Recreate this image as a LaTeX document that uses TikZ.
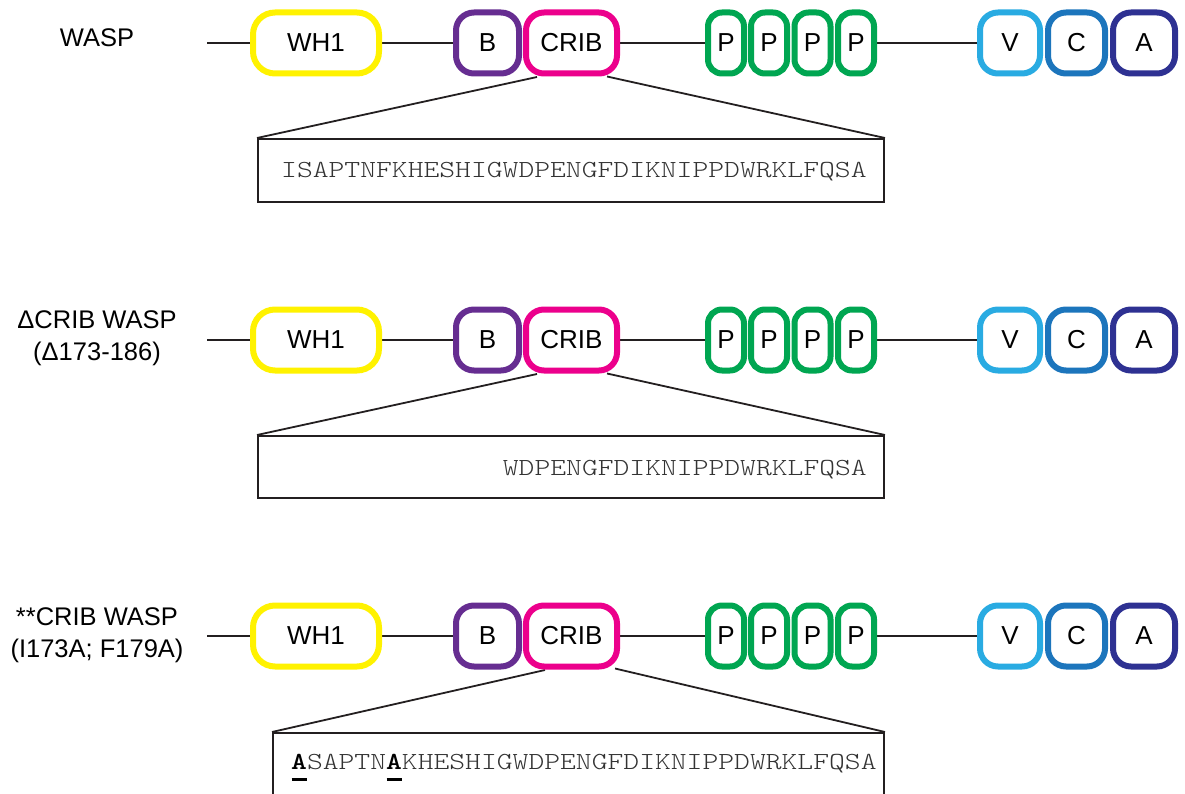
\documentclass[tikz,border=0pt]{standalone}
\usepackage{fontspec}
\setmainfont{Liberation Sans}
\newfontfamily\seqfont[BoldFont=lmmonolt10-bold.otf,FakeStretch=1.23]{lmmonolt10-regular.otf}
\usetikzlibrary{calc,backgrounds}

\definecolor{cwh}{HTML}{FFF200}
\definecolor{cb}{HTML}{662D91}
\definecolor{ccrib}{HTML}{EC008C}
\definecolor{cp}{HTML}{00A651}
\definecolor{cv}{HTML}{29ABE2}
\definecolor{cc}{HTML}{1C75BC}
\definecolor{ca}{HTML}{2E3192}
\definecolor{linec}{HTML}{231F20}

\tikzset{
  dom/.style={draw, line width=6pt, fill=white, inner sep=0pt,
    minimum height=61pt, rounded corners=18pt, text=black,
    font=\fontsize{26}{30}\selectfont},
  chain/.style={draw=linec, line width=2pt},
  fan/.style={draw=linec, line width=1.8pt},
  seqbox/.style={draw=linec, line width=2pt, inner sep=0pt},
  seqtext/.style={inner sep=0pt, text=black!80, font=\seqfont\fontsize{24.5}{30}\selectfont},
  rowlabel/.style={align=center, inner sep=0pt, font=\fontsize{25.5}{32}\selectfont},
}

% mutated residue: bold letter with a bar below the baseline
\newcommand\mutres[1]{\rlap{\hspace{0.5pt}\color{black}\rule[-12pt]{15pt}{3pt}}\textcolor{black}{\textbf{#1}}}

% one WASP domain chain; #1 = name prefix, #2 = y of the chain axis
\newcommand\waspchain[2]{%
  \coordinate (#1start) at (207,#2);
  \node[dom, draw=cwh, minimum width=126pt, rounded corners=22pt] (#1wh1) at (316,#2) {WH1};
  \node[dom, draw=cb, minimum width=63pt] (#1b) at (487.5,#2) {B};
  \node[dom, draw=ccrib, minimum width=91pt] (#1crib) at (571.5,#2) {CRIB};
  \node[dom, draw=cp, minimum width=36pt, rounded corners=14pt] (#1p1) at (726,#2) {P};
  \node[dom, draw=cp, minimum width=36pt, rounded corners=14pt] (#1p2) at (769,#2) {P};
  \node[dom, draw=cp, minimum width=36pt, rounded corners=14pt] (#1p3) at (812.5,#2) {P};
  \node[dom, draw=cp, minimum width=36pt, rounded corners=14pt] (#1p4) at (856,#2) {P};
  \node[dom, draw=cv, minimum width=60pt] (#1v) at (1010,#2) {V};
  \node[dom, draw=cc, minimum width=57pt] (#1c) at (1076.5,#2) {C};
  \node[dom, draw=ca, minimum width=62pt] (#1a) at (1144,#2) {A};
  \begin{pgfonlayer}{background}
    \draw[chain] (#1start) -- (#1wh1);
    \draw[chain] (#1wh1) -- (#1b);
    \draw[chain] (#1crib) -- (#1p1);
    \draw[chain] (#1p4) -- (#1v);
  \end{pgfonlayer}
}

\begin{document}
\begin{tikzpicture}[x=1pt,y=-1pt]
  \useasboundingbox (0,0) rectangle (1185,794);

  % row labels
  \node[rowlabel] (lab1) at (97,38) {WASP};
  \node[rowlabel] (lab2) at (97,338) {ΔCRIB WASP\\(Δ173-186)};
  \node[rowlabel] (lab3) at (97,635) {**CRIB WASP\\(I173A; F179A)};

  % domain chains
  \waspchain{r1}{43}
  \waspchain{r2}{340}
  \waspchain{r3}{636}

  % sequence boxes
  \node[seqbox, minimum width=626pt, minimum height=63pt] (seq1) at (571,170.5) {};
  \node[seqtext, anchor=base west] (txt1) at (281,178) {ISAPTNFKHESHIGWDPENGFDIKNIPPDWRKLFQSA};

  \node[seqbox, minimum width=626pt, minimum height=62pt] (seq2) at (571,467) {};
  \node[seqtext, anchor=base east] (txt2) at (867,475) {WDPENGFDIKNIPPDWRKLFQSA};

  \node[seqbox, minimum width=611pt, minimum height=100pt] (seq3) at (578.5,783) {};
  \node[seqtext, anchor=base west] (txt3) at (291,769) {\mutres{A}SAPTN\mutres{A}KHESHIGWDPENGFDIKNIPPDWRKLFQSA};

  % fan lines from CRIB to the sequence boxes
  \coordinate (fl1) at ($(r1crib.south)+(-34.5,0.5)$);
  \coordinate (fr1) at ($(r1crib.south)+(35.5,0)$);
  \coordinate (fl2) at ($(r2crib.south)+(-34.5,0.5)$);
  \coordinate (fr2) at ($(r2crib.south)+(35.5,0)$);
  \coordinate (fl3) at ($(r3crib.south)+(-26.5,0.5)$);
  \coordinate (fr3) at ($(r3crib.south)+(43.5,-1)$);
  \begin{pgfonlayer}{background}
    \draw[fan] (fl1) -- (seq1.north west);
    \draw[fan] (fr1) -- (seq1.north east);
    \draw[fan] (fl2) -- (seq2.north west);
    \draw[fan] (fr2) -- (seq2.north east);
    \draw[fan] (fl3) -- (seq3.north west);
    \draw[fan] (fr3) -- (seq3.north east);
  \end{pgfonlayer}
\end{tikzpicture}
\end{document}
